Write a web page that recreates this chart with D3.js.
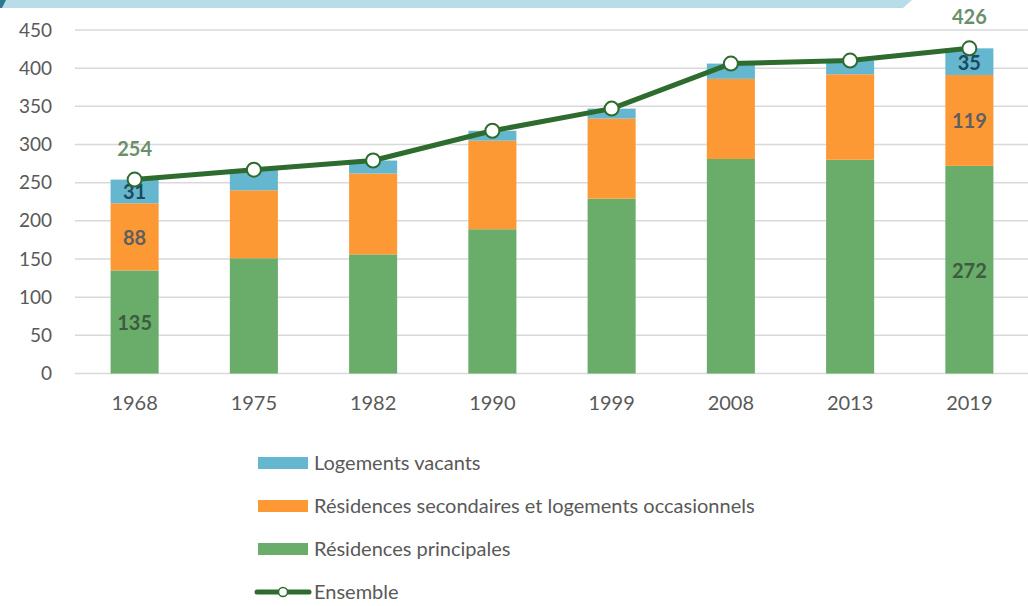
<!DOCTYPE html>
<html>
<head>
<meta charset="utf-8">
<script src="https://cdn.jsdelivr.net/npm/d3@7"></script>
<style>
  body { margin: 0; background: #fff; }
  text { font-family: Lato, "Open Sans", sans-serif; }
</style>
</head>
<body>
<div id="chart-area"></div>
<script>
// data
var years = ["1968", "1975", "1982", "1990", "1999", "2008", "2013", "2019"];
var principales = [135, 151, 156, 189, 229, 281, 280, 272];
var secondaires = [88, 89, 106, 116, 105, 105, 112, 119];
var vacants = [31, 27, 17, 13, 13, 20, 18, 35];
var ensemble = [254, 267, 279, 318, 347, 406, 410, 426];
var yTicks = [0, 50, 100, 150, 200, 250, 300, 350, 400, 450];

var labelled = ["1968", "2019"];

var svgW = 1028, svgH = 606;
var plotL = 75, plotR = 1029, plotT = 30, plotB = 373.5;

var colors = {
    vacants: "#65b7cf",
    secondaires: "#fd9935",
    principales: "#6aad6b",
    line: "#2e6b2e"
};

var svg = d3.select("#chart-area").append("svg")
    .attr("width", svgW)
    .attr("height", svgH);

// banner at top
svg.append("polygon")
    .attr("points", "0,0 912,0 903,8 0,8")
    .attr("fill", "#b8dde8");
svg.append("polygon")
    .attr("points", "0,0 6,0 2,8 0,8")
    .attr("fill", "#2b7a90");

var x = d3.scaleBand()
    .domain(years)
    .range([plotL, plotR])
    .paddingInner(0)
    .paddingOuter(0);

var y = d3.scaleLinear()
    .domain([0, 450])
    .range([plotB, plotT]);

var barW = x.bandwidth() * 0.403;

// gridlines
svg.append("g").selectAll("line")
    .data(yTicks)
    .enter().append("line")
    .attr("x1", plotL)
    .attr("x2", svgW)
    .attr("y1", (d) => y(d))
    .attr("y2", (d) => y(d))
    .attr("stroke", "#d9d9d9")
    .attr("stroke-width", 1.5);

// y axis labels
var yAxis = d3.axisLeft(y).tickValues(yTicks).tickSize(0).tickPadding(0);
var gy = svg.append("g")
    .attr("transform", "translate(52,0)")
    .call(yAxis);
gy.select(".domain").remove();
gy.selectAll("text")
    .attr("font-family", "Lato, 'Open Sans', sans-serif")
    .attr("font-size", 19)
    .attr("fill", "#595959");

// x axis labels
var xAxis = d3.axisBottom(x).tickSize(0).tickPadding(0);
var gx = svg.append("g")
    .attr("transform", "translate(0," + 396 + ")")
    .call(xAxis);
gx.select(".domain").remove();
gx.selectAll("text")
    .attr("font-family", "Lato, 'Open Sans', sans-serif")
    .attr("font-size", 20)
    .attr("fill", "#595959");

// stacked bars
var rows = years.map((yr, i) => {
    return { year: yr, principales: principales[i], secondaires: secondaires[i], vacants: vacants[i] };
});
var keys = ["principales", "secondaires", "vacants"];
var series = d3.stack().keys(keys)(rows);

var labelColors = {
    principales: "#3e5c3e",
    secondaires: "#5f5f5f",
    vacants: "#1d4a5c"
};

series.forEach((s) => {
    svg.append("g").selectAll("rect")
        .data(s)
        .enter().append("rect")
        .attr("x", (d) => x(d.data.year) + (x.bandwidth() - barW) / 2)
        .attr("y", (d) => y(d[1]))
        .attr("width", barW)
        .attr("height", (d) => y(d[0]) - y(d[1]))
        .attr("fill", colors[s.key]);

    svg.append("g").selectAll("text")
        .data(s.filter((d) => labelled.indexOf(d.data.year) >= 0))
        .enter().append("text")
        .attr("x", (d) => x(d.data.year) + x.bandwidth() / 2)
        .attr("y", (d) => (y(d[0]) + y(d[1])) / 2)
        .attr("text-anchor", "middle")
        .attr("dominant-baseline", "central")
        .attr("font-size", 20)
        .attr("font-weight", "bold")
        .attr("fill", labelColors[s.key])
        .text((d) => d.data[s.key]);
});

// ensemble line
var pts = years.map((yr, i) => ({ year: yr, v: ensemble[i] }));
var line = d3.line()
    .x((d) => x(d.year) + x.bandwidth() / 2)
    .y((d) => y(d.v));

svg.append("path")
    .datum(pts)
    .attr("d", line)
    .attr("fill", "none")
    .attr("stroke", colors.line)
    .attr("stroke-width", 5)
    .attr("stroke-linejoin", "round");

svg.append("g").selectAll("circle")
    .data(pts)
    .enter().append("circle")
    .attr("cx", (d) => x(d.year) + x.bandwidth() / 2)
    .attr("cy", (d) => y(d.v))
    .attr("r", 7)
    .attr("fill", "#fff")
    .attr("stroke", colors.line)
    .attr("stroke-width", 2);

svg.append("g").selectAll("text")
    .data(pts.filter((d) => labelled.indexOf(d.year) >= 0))
    .enter().append("text")
    .attr("x", (d) => x(d.year) + x.bandwidth() / 2)
    .attr("y", (d) => y(d.v) - 32)
    .attr("text-anchor", "middle")
    .attr("dominant-baseline", "central")
    .attr("font-size", 20)
    .attr("font-weight", "bold")
    .attr("fill", "#6b8f6b")
    .text((d) => d.v);

// legend
var legendItems = [
    { label: "Logements vacants", key: "vacants" },
    { label: "Résidences secondaires et logements occasionnels", key: "secondaires" },
    { label: "Résidences principales", key: "principales" },
    { label: "Ensemble", key: "line" }
];

var lg = svg.append("g").selectAll("g")
    .data(legendItems)
    .enter().append("g")
    .attr("transform", (d, i) => "translate(0," + (463 + i * 43) + ")");

lg.filter((d) => d.key !== "line").append("rect")
    .attr("x", 258)
    .attr("y", -6)
    .attr("width", 50)
    .attr("height", 12)
    .attr("fill", (d) => colors[d.key]);

var ll = lg.filter((d) => d.key === "line");
ll.append("line")
    .attr("x1", 257)
    .attr("x2", 309)
    .attr("y1", 0)
    .attr("y2", 0)
    .attr("stroke", colors.line)
    .attr("stroke-width", 5)
    .attr("stroke-linecap", "round");
ll.append("circle")
    .attr("cx", 283)
    .attr("cy", 0)
    .attr("r", 4.5)
    .attr("fill", "#fff")
    .attr("stroke", colors.line)
    .attr("stroke-width", 1.5);

lg.append("text")
    .attr("x", 314)
    .attr("y", -1)
    .attr("dominant-baseline", "central")
    .attr("font-size", 20)
    .attr("fill", "#595959")
    .text((d) => d.label);
</script>
</body>
</html>
